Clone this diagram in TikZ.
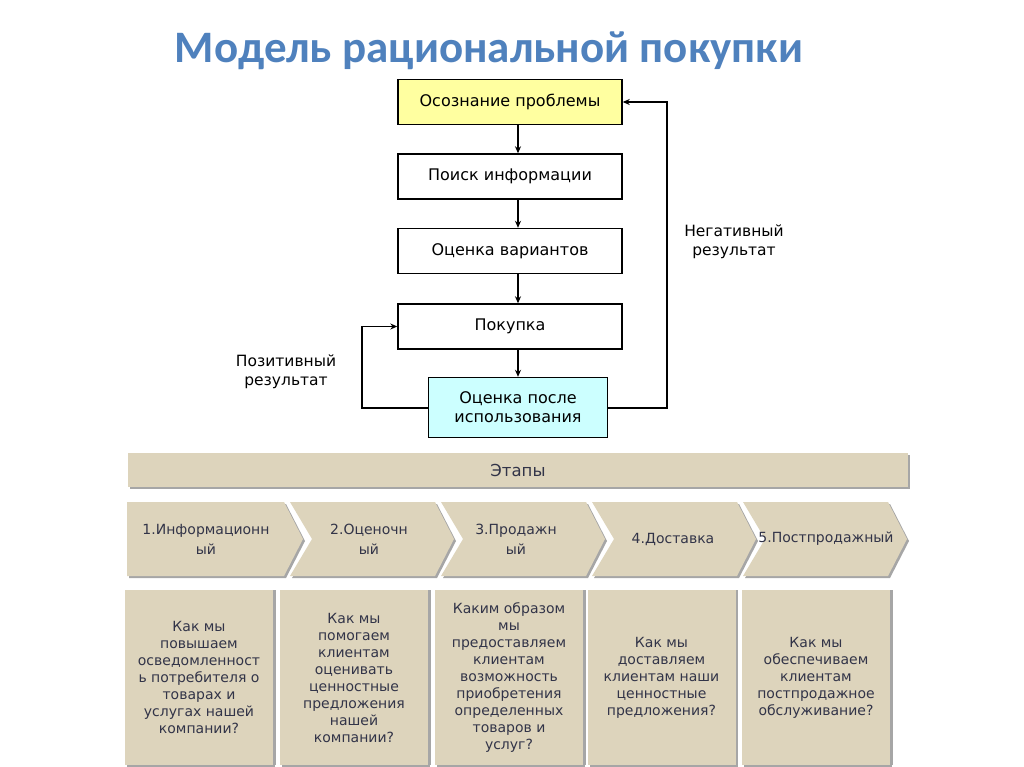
\documentclass[tikz,border=0pt]{standalone}
\usepackage{fontspec}
\setmainfont{DejaVu Sans}
\newfontfamily\titlefont{Carlito}
\usepackage{tikz}
\usetikzlibrary{arrows.meta,shadows}
\definecolor{titleblue}{RGB}{79,129,189}
\definecolor{tan}{RGB}{221,212,188}
\definecolor{paleyellow}{RGB}{255,255,160}
\definecolor{palecyan}{RGB}{204,255,255}
\definecolor{stagetext}{RGB}{50,52,72}

\begin{document}
\begin{tikzpicture}[
  x=1pt, y=-1pt,
  stepbox/.style={rectangle, draw=black, line width=1.4pt, minimum width=224pt, minimum height=45pt, font=\fontsize{16}{19}\selectfont, align=center},
  arr/.style={-{Stealth[length=7pt,width=6pt]}, line width=1.2pt},
  note/.style={font=\fontsize{15.5}{19}\selectfont, align=center},
  tanshadow/.style={drop shadow={shadow xshift=2pt, shadow yshift=-2pt, fill=gray!70, opacity=1}},
  stagebox/.style={fill=tan, tanshadow, font=\fontsize{14}{17}\selectfont, text=stagetext, align=center}
]
\useasboundingbox (0,0) rectangle (1024,767);

% title
\node (title) at (489,51) {\titlefont\bfseries\fontsize{45}{52}\selectfont\color{titleblue}Модель рациональной покупки};

% flowchart
\node[stepbox, fill=paleyellow] (b1) at (510,102) {Осознание проблемы};
\node[stepbox] (b2) at (510,176.5) {Поиск информации};
\node[stepbox] (b3) at (510,251) {Оценка вариантов};
\node[stepbox] (b4) at (510,326.5) {Покупка};
\node[stepbox, fill=palecyan, minimum width=179pt, minimum height=60pt] (b5) at (518,407.5) {Оценка после\\использования};

\foreach \a/\b in {b1/b2, b2/b3, b3/b4, b4/b5}
  \draw[arr] (\a.south -| b5.center) -- (\b.north -| b5.center);

\coordinate (neg) at (667,408);
\coordinate (pos) at (362,408);
\draw[arr] (b5.east |- neg) -- (neg) |- (b1.east);
\draw[arr] (b5.west |- pos) -- (pos) |- (b4.west);

\node[note] (negl) at (734,242) {Негативный\\результат};
\node[note] (posl) at (286,372) {Позитивный\\результат};

% stages
\node[stagebox, minimum width=780pt, minimum height=34pt, font=\fontsize{16.5}{19}\selectfont] (stages) at (518,470) {Этапы};

\foreach \i/\tx/\txt in {0/206/{1.Информационн\\ый}, 1/369/{2.Оценочн\\ый}, 2/516/{3.Продажн\\ый}, 3/673/{4.Доставка}, 4/826/{5.Постпродажный}} {
  \pgfmathsetmacro{\L}{139+151*\i}
  \pgfmathsetmacro{\n}{\i==0 ? 0 : 22}
  \pgfmathsetmacro{\l}{\i==0 ? 127 : \L}
  \fill[tan, tanshadow] (\l,502) -- (\L+145,502) -- (\L+164,539) -- (\L+145,576) -- (\l,576) -- (\l+\n,539) -- cycle;
  \node[font=\fontsize{14}{20}\selectfont, text=stagetext, align=center] (ch\i) at (\tx,539) {\txt};
}

% questions
\foreach \i/\x/\txt in {
  1/199/{Как мы\\повышаем\\осведомленност\\ь потребителя о\\товарах и\\услугах нашей\\компании?},
  2/354/{Как мы\\помогаем\\клиентам\\оценивать\\ценностные\\предложения\\нашей\\компании?},
  3/509/{Каким образом\\мы\\предоставляем\\клиентам\\возможность\\приобретения\\определенных\\товаров и\\услуг?},
  4/661.5/{Как мы\\доставляем\\клиентам наши\\ценностные\\предложения?},
  5/816/{Как мы\\обеспечиваем\\клиентам\\постпродажное\\обслуживание?}}
  \node[stagebox, minimum width=148pt, minimum height=175pt, drop shadow={shadow xshift=2.5pt, shadow yshift=0pt, fill=gray!70, opacity=1}] (q\i) at (\x,677.5) {\txt};

\end{tikzpicture}
\end{document}
